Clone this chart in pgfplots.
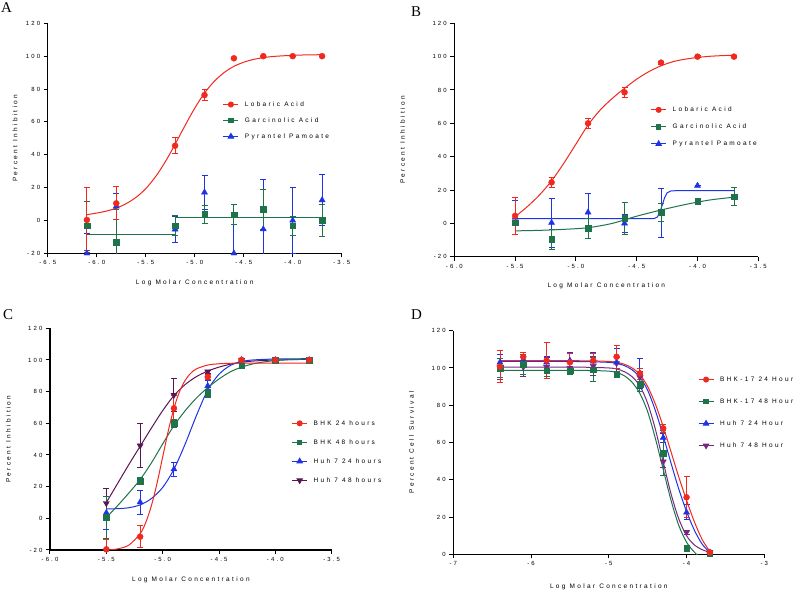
\documentclass[border=0pt]{standalone}
\usepackage{fontspec}
\setmainfont{Liberation Sans}
\newfontfamily\spaced[LetterSpace=36]{Liberation Sans}
\newfontfamily\letterfont{Liberation Serif}
\usepackage{pgfplots}
\pgfplotsset{compat=1.18}

\definecolor{cred}{RGB}{240,40,30}
\definecolor{cgreen}{RGB}{30,115,75}
\definecolor{cblue}{RGB}{30,50,230}
\definecolor{cpurple}{RGB}{90,20,85}
\definecolor{cviolet}{RGB}{120,40,130}

\newcommand\tickfont{\spaced\fontsize{6}{7}\selectfont}
\newcommand\labfont{\spaced\fontsize{6.5}{8}\selectfont}

\pgfplotsset{
  panel/.style={
    scale only axis,
    axis lines=left,
    axis line style={-, line width=1.2bp},
    tick align=outside,
    major tick length=4bp,
    tick style={black, line width=1bp},
    ymin=-20, ymax=120,
    ytick={-20,0,20,40,60,80,100,120},
    yticklabels={-20,0,20,40,60,80,100,120},
    tick label style={font=\tickfont},
    xlabel={Log Molar Concentration},
    ylabel={Percent Inhibition},
    label style={font=\labfont},
    legend cell align=left,
    legend image code/.code={\draw[mark repeat=2,mark phase=2,#1] plot coordinates {(0bp,0bp) (7.5bp,0bp) (15bp,0bp)};},
  },
  leg/.style n args={3}{legend style={draw=none, fill=none, inner sep=0pt, outer sep=0pt,
      at={(#1,#2)}, anchor=north west, font=\labfont, row sep=#3, column sep=6bp,
      nodes={inner sep=0pt, text height=5bp, text depth=1.5bp}}},
  fitline/.style={no markers, line width=1bp, smooth, forget plot},
  stepline/.style={no markers, line width=1bp, forget plot},
  dots/.style={only marks, forget plot, mark size=3bp,
    error bars/y dir=both, error bars/y explicit,
    error bars/error bar style={line width=0.9bp},
    error bars/error mark=-,
    error bars/error mark options={rotate=90, mark size=3bp, line width=0.9bp}},
  circ/.style={mark=*},
  sq/.style={mark=square*, mark size=2.8bp},
  tri/.style={mark=triangle*, mark size=3.5bp},
  itri/.style={mark=triangle*, mark size=3.5bp, mark options={rotate=180}},
}

\begin{document}
\begin{tikzpicture}
\useasboundingbox (0,0) rectangle (800bp,592bp);

\node[anchor=base west, inner sep=0pt, font=\letterfont\fontsize{15}{16}\selectfont] at (1bp,579bp) {A};
\node[anchor=base west, inner sep=0pt, font=\letterfont\fontsize{15}{16}\selectfont] at (411bp,575bp) {B};
\node[anchor=base west, inner sep=0pt, font=\letterfont\fontsize{15}{16}\selectfont] at (3bp,272bp) {C};
\node[anchor=base west, inner sep=0pt, font=\letterfont\fontsize{15}{16}\selectfont] at (411bp,272bp) {D};

% ---------------- A
\begin{axis}[panel, at={(47.7bp,338.7bp)}, anchor=south west, width=294bp, height=230bp,
  xmin=-6.5, xmax=-3.5, xtick={-6.5,-6,-5.5,-5,-4.5,-4,-3.5},
  xticklabels={-6.5,-6.0,-5.5,-5.0,-4.5,-4.0,-3.5},
  xlabel style={at={(axis description cs:0.5,-0.130)}, anchor=center},
  ylabel style={at={(axis description cs:-0.111,0.5)}, anchor=center},
  leg={0.596}{0.661}{9.5bp}]
\addlegendimage{cred, line width=1bp, mark=*, mark size=2.5bp}
\addlegendentry{Lobaric Acid}
\addlegendimage{cgreen, line width=1bp, mark=square*, mark size=2.3bp}
\addlegendentry{Garcinolic Acid}
\addlegendimage{cblue, line width=1bp, mark=triangle*, mark size=3bp}
\addlegendentry{Pyrantel Pamoate}

\addplot[cblue, dots, tri] table[x index=0, y index=1, y error index=2] {
x y e
-6.1 -20 12
-5.8 8.6 8
-5.2 -5.4 8
-4.9 17.1 10.5
-4.6 -20 17.4
-4.3 -5.3 30
-4.0 0 20
-3.7 12.4 15.3
};
\addplot[cgreen, stepline] coordinates {(-6.1,-8.3) (-5.2,-8.3) (-5.2,1.9) (-3.7,1.9)};
\addplot[cgreen, dots, sq] table[x index=0, y index=1, y error index=2] {
x y e
-6.1 -3.2 15
-5.8 -13.3 20
-5.2 -3.2 6
-4.9 3.7 5.5
-4.6 3.5 6
-4.3 6.8 12
-4.0 -3.3 6
-3.7 0 10
};
\addplot[cred, fitline] coordinates {(-6.1,3.5) (-6.0,4.5) (-5.9,5.7) (-5.8,7.5) (-5.7,10.2)
 (-5.6,14.0) (-5.5,19.3) (-5.4,26.6) (-5.3,35.7) (-5.2,46.4) (-5.1,57.6) (-5.0,68.3)
 (-4.9,77.5) (-4.8,84.7) (-4.7,90.0) (-4.6,93.8) (-4.5,96.3) (-4.4,98.0) (-4.3,99.1)
 (-4.2,99.8) (-4.1,100.2) (-4.0,100.5) (-3.9,100.7) (-3.8,100.8) (-3.7,100.9)};
\addplot[cred, dots, circ] table[x index=0, y index=1, y error index=2] {
x y e
-6.1 0.3 20
-5.8 10.4 10
-5.2 45.5 5
-4.9 76.3 3.5
-4.6 98.7 0
-4.3 100 0
-4.0 100 0
-3.7 100 0
};
\end{axis}

% ---------------- B
\begin{axis}[panel, at={(454.3bp,335.3bp)}, anchor=south west, width=304bp, height=233.4bp,
  xmin=-6, xmax=-3.5, xtick={-6,-5.5,-5,-4.5,-4,-3.5},
  xticklabels={-6.0,-5.5,-5.0,-4.5,-4.0,-3.5},
  xlabel style={at={(axis description cs:0.5,-0.124)}, anchor=center},
  ylabel style={at={(axis description cs:-0.170,0.5)}, anchor=center},
  leg={0.646}{0.643}{10.5bp}]
\addlegendimage{cred, line width=1bp, mark=*, mark size=2.5bp}
\addlegendentry{Lobaric Acid}
\addlegendimage{cgreen, line width=1bp, mark=square*, mark size=2.3bp}
\addlegendentry{Garcinolic Acid}
\addlegendimage{cblue, line width=1bp, mark=triangle*, mark size=3bp}
\addlegendentry{Pyrantel Pamoate}

\addplot[cblue, stepline] coordinates {(-5.5,2.8) (-4.36,2.8) (-4.33,3.8) (-4.31,6.5) (-4.29,11)
 (-4.27,15.5) (-4.25,18.3) (-4.22,19.4) (-4.18,19.6) (-3.7,19.6)};
\addplot[cblue, dots, tri] table[x index=0, y index=1, y error index=2] {
x y e
-5.5 3.5 10
-5.2 0.4 14.8
-4.9 6.6 11.5
-4.6 0 5.5
-4.3 6.5 14.7
-4.0 22.6 0
};
\addplot[cgreen, fitline] coordinates {(-5.5,-4.5) (-5.3,-4.2) (-5.1,-3.6) (-4.9,-2.6) (-4.7,0)
 (-4.5,4.3) (-4.3,8) (-4.1,11.3) (-3.9,14) (-3.7,15.7)};
\addplot[cgreen, dots, sq] table[x index=0, y index=1, y error index=2] {
x y e
-5.5 0.4 1
-5.2 -9.4 6
-4.9 -3 6
-4.6 3 9.5
-4.3 6.6 5.5
-4.0 13.4 1
-3.7 16 5.5
};
\addplot[cred, fitline] coordinates {(-5.5,4) (-5.4,10) (-5.3,17) (-5.2,25.5) (-5.1,36)
 (-5.0,47.5) (-4.9,59) (-4.8,68) (-4.7,75) (-4.6,81) (-4.5,86.5) (-4.4,91) (-4.3,94.5)
 (-4.2,97) (-4.1,98.5) (-4.0,99.5) (-3.9,100.2) (-3.8,100.6) (-3.7,100.8)};
\addplot[cred, dots, circ] table[x index=0, y index=1, y error index=2] {
x y e
-5.5 4.5 11
-5.2 24.6 3
-4.9 60 3
-4.6 78.6 3
-4.3 96.4 1
-4.0 100 0.5
-3.7 100 0.5
};
\end{axis}

% ---------------- C
\begin{axis}[panel, at={(50bp,42bp)}, anchor=south west, width=281.7bp, height=221.7bp,
  xmin=-6, xmax=-3.5, xtick={-6,-5.5,-5,-4.5,-4,-3.5},
  xticklabels={-6.0,-5.5,-5.0,-4.5,-4.0,-3.5},
  xlabel style={at={(axis description cs:0.5,-0.135)}, anchor=center},
  ylabel style={at={(axis description cs:-0.148,0.5)}, anchor=center},
  leg={0.858}{0.586}{12.5bp}]
\addlegendimage{cred, line width=1bp, mark=*, mark size=2.5bp}
\addlegendentry{BHK 24 hours}
\addlegendimage{cgreen, line width=1bp, mark=square*, mark size=2.3bp}
\addlegendentry{BHK 48 hours}
\addlegendimage{cblue, line width=1bp, mark=triangle*, mark size=3bp}
\addlegendentry{Huh 7 24 hours}
\addlegendimage{cpurple, line width=1bp, mark=triangle*, mark size=3bp, mark options={rotate=180}}
\addlegendentry{Huh 7 48 hours}

\addplot[cpurple, fitline] coordinates {(-5.5,10) (-5.4,22) (-5.3,34) (-5.2,45.5) (-5.1,57)
 (-5.0,68) (-4.9,77.5) (-4.8,84.5) (-4.7,89.5) (-4.6,93) (-4.5,95.5) (-4.4,97.3) (-4.3,98.5)
 (-4.2,99.3) (-4.0,100) (-3.7,100.4)};
\addplot[cpurple, dots, itri] table[x index=0, y index=1, y error index=2] {
x y e
-5.5 9.5 9.5
-5.2 45.9 14
-4.9 77.9 10.5
-4.6 92.6 1
-4.3 100 0
-4.0 100 0
-3.7 100 0
};
\addplot[cblue, fitline] coordinates {(-5.5,6) (-5.4,6.1) (-5.3,6.7) (-5.2,8.5) (-5.1,12.5)
 (-5.0,19.5) (-4.9,31) (-4.8,47) (-4.7,65) (-4.6,81) (-4.5,91) (-4.4,96.5) (-4.3,99)
 (-4.2,100) (-4.0,100.6) (-3.7,100.8)};
\addplot[cblue, dots, tri] table[x index=0, y index=1, y error index=2] {
x y e
-5.5 3.5 10.5
-5.2 10.2 7.5
-4.9 31 4.5
-4.6 83.6 3.5
-4.3 100 0
-4.0 100 0
-3.7 100 0
};
\addplot[cgreen, fitline] coordinates {(-5.5,0.5) (-5.4,8) (-5.3,16) (-5.2,24.5) (-5.1,35)
 (-5.0,47) (-4.9,58.5) (-4.8,68) (-4.7,76) (-4.6,82.5) (-4.5,88) (-4.4,92.5) (-4.3,95.5)
 (-4.2,97.5) (-4.1,98.8) (-4.0,99.6) (-3.9,100.1) (-3.8,100.4) (-3.7,100.6)};
\addplot[cgreen, dots, sq] table[x index=0, y index=1, y error index=2] {
x y e
-5.5 0.6 13
-5.2 23.6 2.5
-4.9 60 2.5
-4.6 78.9 2.5
-4.3 96.4 1
-4.0 100 0.5
-3.7 100 0.5
};
\addplot[cred, fitline] coordinates {(-5.5,-20.1) (-5.4,-19.3) (-5.3,-16.9) (-5.2,-9.7)
 (-5.15,-2.6) (-5.1,8) (-5.05,22.2) (-5.0,38.75) (-4.95,55.3) (-4.9,69.5) (-4.85,80.1)
 (-4.8,87.2) (-4.75,91.7) (-4.7,94.4) (-4.6,96.8) (-4.5,97.6) (-4.4,97.9) (-4.3,98)
 (-4.0,98) (-3.7,98)};
\addplot[cred, dots, circ] table[x index=0, y index=1, y error index=2] {
x y e
-5.5 -19.6 6.3
-5.2 -11.6 7
-4.9 69.5 8
-4.6 89.4 1.5
-4.3 100 1
-4.0 100 0.5
-3.7 100 0.5
};
\end{axis}

% ---------------- D
\begin{axis}[panel, at={(453.3bp,37.7bp)}, anchor=south west, width=311bp, height=223.6bp,
  xmin=-7, xmax=-3, xtick={-7,-6,-5,-4,-3},
  xticklabels={-7,-6,-5,-4,-3},
  ymin=0, ymax=120, ytick={0,20,40,60,80,100,120},
  yticklabels={0,20,40,60,80,100,120},
  ylabel={Percent Cell Survival},
  xlabel style={at={(axis description cs:0.5,-0.145)}, anchor=center},
  ylabel style={at={(axis description cs:-0.134,0.5)}, anchor=center},
  leg={0.787}{0.796}{15.5bp}]
\addlegendimage{cred, line width=1bp, mark=*, mark size=2.5bp}
\addlegendentry{BHK-17 24 Hour}
\addlegendimage{cgreen, line width=1bp, mark=square*, mark size=2.3bp}
\addlegendentry{BHK-17 48 Hour}
\addlegendimage{cblue, line width=1bp, mark=triangle*, mark size=3bp}
\addlegendentry{Huh 7 24 Hour}
\addlegendimage{cviolet, line width=1bp, mark=triangle*, mark size=3bp, mark options={rotate=180}}
\addlegendentry{Huh 7 48 Hour}

\addplot[cviolet, fitline] coordinates {(-6.4,100.5) (-6.0,100.5) (-5.5,100.5) (-5.2,100.3)
 (-5.0,100) (-4.9,99.5) (-4.8,98) (-4.7,95.3) (-4.6,90.3) (-4.5,81) (-4.4,67) (-4.3,49.5)
 (-4.2,32.5) (-4.1,19) (-4.0,10) (-3.9,5) (-3.8,2.5) (-3.7,1)};
\addplot[cviolet, dots, itri] table[x index=0, y index=1, y error index=2] {
x y e
-6.4 100.5 6.5
-6.1 100.5 5
-5.8 100.5 5
-5.5 100 3
-5.2 101 5
-4.9 102.5 3
-4.6 95 3
-4.3 49.7 3
-4.0 11.8 1
-3.7 1 0.5
};
\addplot[cblue, fitline] coordinates {(-6.4,103.5) (-6.0,103.5) (-5.5,103.5) (-5.2,103.3)
 (-5.0,103) (-4.9,102.5) (-4.8,101.3) (-4.7,99) (-4.6,95) (-4.5,88) (-4.4,77) (-4.3,63.5)
 (-4.2,49) (-4.1,35) (-4.0,23) (-3.9,13) (-3.8,5.5) (-3.7,1)};
\addplot[cblue, dots, tri] table[x index=0, y index=1, y error index=2] {
x y e
-6.4 103 4
-6.1 104.5 3
-5.8 103 3
-5.5 104 4.5
-5.2 103.5 5
-4.9 103 7.5
-4.6 97 8
-4.3 62.6 2.5
-4.0 22.5 4
-3.7 1 0.5
};
\addplot[cgreen, fitline] coordinates {(-6.4,98.7) (-6.0,98.7) (-5.5,98.7) (-5.2,98.6)
 (-5.0,98.3) (-4.9,97.6) (-4.8,95.8) (-4.7,92.3) (-4.6,86.3) (-4.5,76.5) (-4.4,62) (-4.3,45.5)
 (-4.2,29) (-4.1,15.5) (-4.0,6.5) (-3.9,1.2) (-3.8,-2.5) (-3.7,-4.5)};
\addplot[cgreen, dots, sq] table[x index=0, y index=1, y error index=2] {
x y e
-6.4 100 5
-6.1 102 5.5
-5.8 98.6 3
-5.5 98.6 2
-5.2 99 6.5
-4.9 96.8 1
-4.6 91.4 4
-4.3 54.2 12
-4.0 3.2 1
-3.7 0.5 0.5
};
\addplot[cred, fitline] coordinates {(-6.4,104) (-6.0,104) (-5.5,103.9) (-5.2,103.8)
 (-5.0,103.5) (-4.9,103) (-4.8,102) (-4.7,100) (-4.6,96.5) (-4.5,90) (-4.4,80.5) (-4.3,68.5)
 (-4.2,55) (-4.1,41.5) (-4.0,29) (-3.9,17.5) (-3.8,8) (-3.7,1.5)};
\addplot[cred, dots, circ] table[x index=0, y index=1, y error index=2] {
x y e
-6.4 100.7 8.5
-6.1 106 2.5
-5.8 104 9.5
-5.5 103 5
-5.2 104 4
-4.9 106 6
-4.6 97 3
-4.3 67.6 2
-4.0 30.6 11
-3.7 1 0.5
};
\end{axis}
\end{tikzpicture}
\end{document}
